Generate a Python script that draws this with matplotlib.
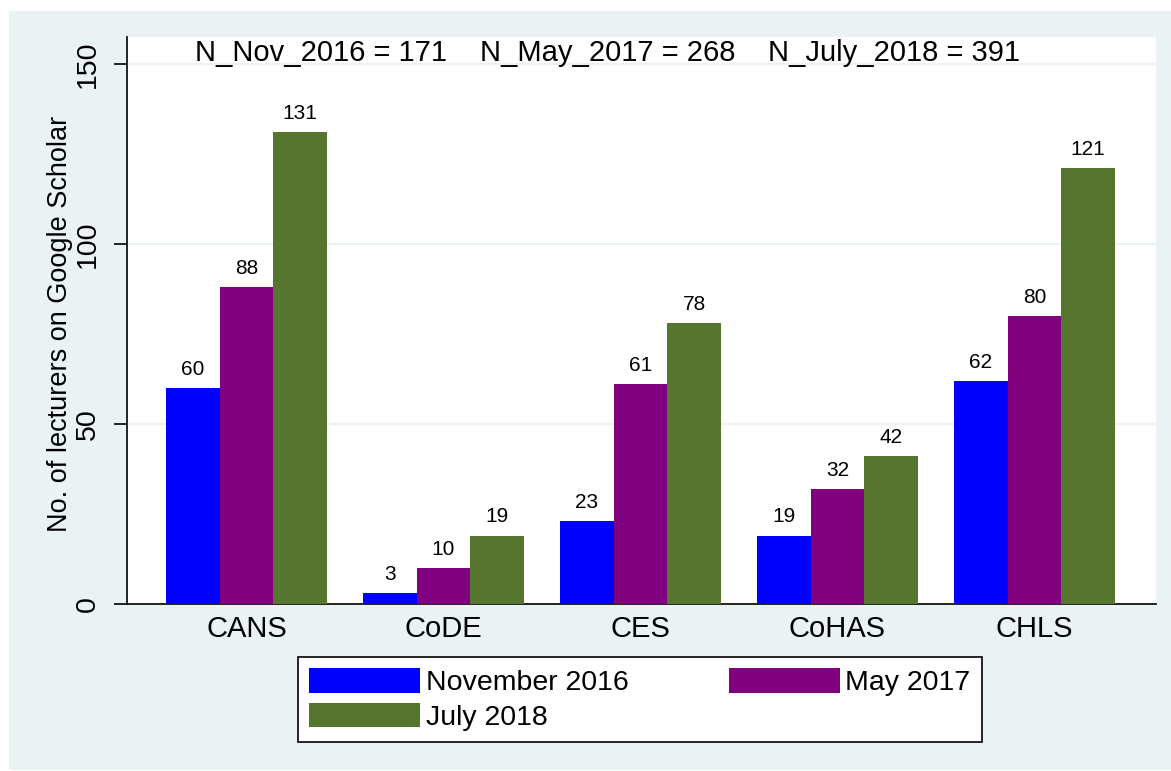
import numpy as np
import matplotlib
matplotlib.use("Agg")
import matplotlib.pyplot as plt
from matplotlib.patches import Rectangle

plt.rcParams["font.family"] = ["Liberation Sans", "DejaVu Sans"]

# data
colleges = ["CANS", "CoDE", "CES", "CoHAS", "CHLS"]
series_names = ["November 2016", "May 2017", "July 2018"]
nov_2016 = [60, 3, 23, 19, 62]
may_2017 = [88, 10, 61, 32, 80]
jul_2018 = [131, 19, 78, 41, 121]
# printed labels (CoHAS July bar is drawn at ~41 but labelled 42)
nov_labels = ["60", "3", "23", "19", "62"]
may_labels = ["88", "10", "61", "32", "80"]
jul_labels = ["131", "19", "78", "42", "121"]
totals_text = ["N_Nov_2016 = 171", "N_May_2017 = 268", "N_July_2018 = 391"]

colors = ["#0000FF", "#800080", "#56752F"]
bg = "#EAF2F3"

fig = plt.figure(figsize=(11.71, 7.71), dpi=100)
fig.patch.set_facecolor("white")
fig.add_artist(Rectangle((9 / 1171, 1 / 771), 1162 / 1171, 759 / 771,
                         transform=fig.transFigure, facecolor=bg,
                         edgecolor="none", zorder=-1))

ax = fig.add_axes([127 / 1171, 167 / 771, 1029 / 1171, 567 / 771])
ax.set_facecolor("white")

x = np.arange(len(colleges))
w = 0.2716
all_vals = [nov_2016, may_2017, jul_2018]
all_labels = [nov_labels, may_labels, jul_labels]
bars = []
for i, (vals, labs) in enumerate(zip(all_vals, all_labels)):
    pos = x + (i - 1) * w
    b = ax.bar(pos, vals, width=w, color=colors[i], label=series_names[i],
               zorder=3, linewidth=0)
    bars.append(b)
    for px, v, t in zip(pos, vals, labs):
        ax.annotate(t, (px, v), xytext=(0, 9.5), textcoords="offset points",
                    ha="center", va="baseline", fontsize=15, zorder=4)

ax.set_xlim(-0.607, 4.617)
ax.set_ylim(0, 157.5)
ax.set_yticks([0, 50, 100, 150])
ax.yaxis.grid(True, color=bg, linewidth=1.5, zorder=0)
ax.set_axisbelow(True)

for s in ["top", "right"]:
    ax.spines[s].set_visible(False)
for s in ["left", "bottom"]:
    ax.spines[s].set_color("black")
    ax.spines[s].set_linewidth(1.2)

ax.tick_params(axis="y", direction="out", length=9.5, width=1.2,
               labelsize=20.5, pad=9)
for lab in ax.get_yticklabels():
    lab.set_rotation(90)
    lab.set_va("center")
ax.set_xticks(x)
ax.set_xticklabels(colleges)
ax.tick_params(axis="x", length=0, labelsize=21, pad=8)

ax.set_ylabel("No. of lecturers on Google Scholar", fontsize=19.5)
ax.yaxis.set_label_coords(-0.052, 0.494)

for t, tx in zip(totals_text, [0.378, 1.835, 3.287]):
    ax.text(tx, 153.0, t, ha="center", va="center", fontsize=21)

handles = [bars[0], bars[2], bars[1]]
names = [series_names[0], series_names[2], series_names[1]]
leg = fig.legend(handles, names, ncol=2, mode="expand",
                 bbox_to_anchor=(298 / 1171, 29 / 771, 684 / 1171, 85 / 771),
                 loc="upper left", borderaxespad=0, fontsize=20.5,
                 handlelength=3.9, handleheight=0.95, handletextpad=0.2,
                 labelspacing=0.22, borderpad=0.4, fancybox=False,
                 framealpha=1, edgecolor="black")
leg.get_frame().set_linewidth(1.2)

fig.savefig("out.png", dpi=100, facecolor=fig.get_facecolor())
